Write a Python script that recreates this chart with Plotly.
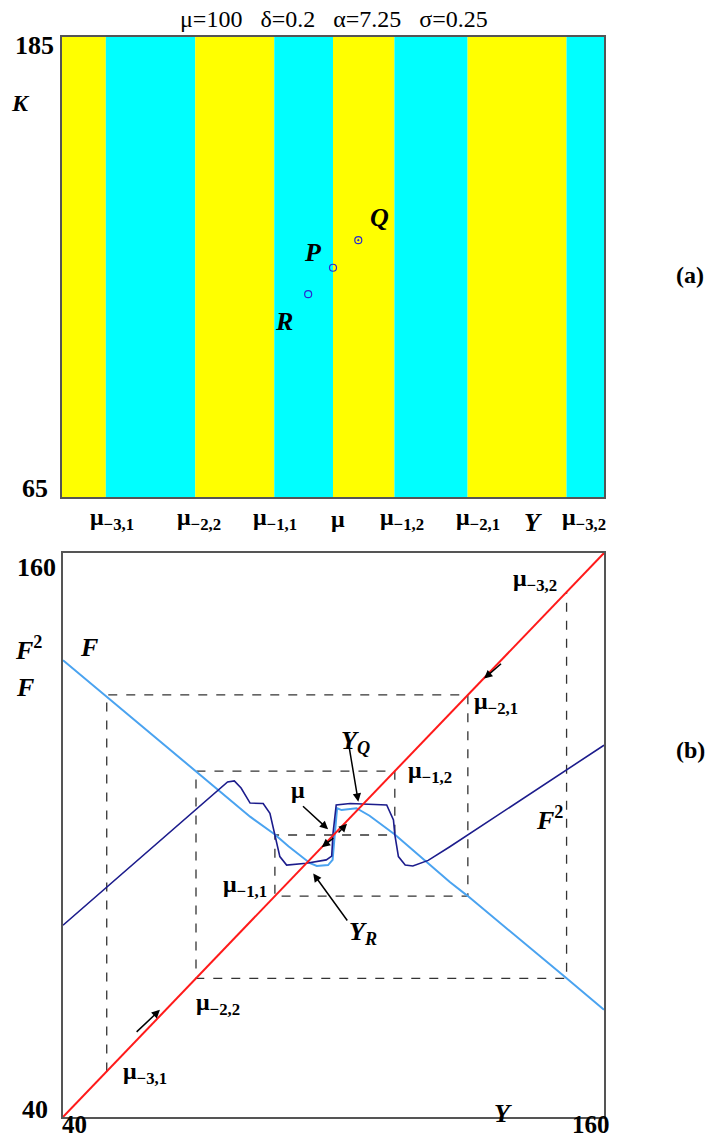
import plotly.graph_objects as go

W, H = 712, 1141
SERIF = "Liberation Serif"

# ---- characteristic points on the Y axis ----
mu = 100.0
mu_31, mu_22, mu_11 = 49.7, 69.5, 87.0
mu_12, mu_21, mu_32 = 113.6, 129.8, 151.7

# panel (a): basin stripes between consecutive points (yellow / cyan)
stripe_edges = [40.0, mu_31, mu_22, mu_11, mu, mu_12, mu_21, mu_32, 160.0]
stripe_colors = ["#ffff00", "#00ffff", "#ffff00", "#00ffff",
                 "#ffff00", "#00ffff", "#ffff00", "#00ffff"]
stripe_tick_text = ["μ<sub>−3,1</sub>", "μ<sub>−2,2</sub>", "μ<sub>−1,1</sub>", "μ",
                    "μ<sub>−1,2</sub>", "μ<sub>−2,1</sub>", "μ<sub>−3,2</sub>"]

# panel (a): equilibrium points (Y, K)
pts_name = ["P", "Q", "R"]
pts_Y = [100.0, 105.6, 94.5]
pts_K = [124.8, 132.0, 117.9]

# panel (b): map F and second iterate F^2
F_Y = [40, 50, 60, 70, 81.5, 87.0, 90.0, 94.8, 96.3, 98.8, 99.8, 100.3, 100.8,
       101.8, 105.1, 108.0, 113.6, 125.8, 129.8, 151.7, 160]
F_V = [137.2, 129.2, 121.1, 113.1, 103.9, 100.1, 97.6, 94.0, 93.4, 93.6, 94.7,
       100.3, 105.7, 105.3, 105.7, 104.1, 100.1, 90.0, 87.0, 69.5, 62.8]

F2_Y = [40, 50, 60, 70, 75.0, 76.5, 78.0, 79.5, 81.5, 84.4, 85.9, 87.0, 88.1, 89.6,
        94.0, 98.4, 99.6, 99.9, 100.6, 103.7, 111.8, 113.3, 113.6, 114.4, 115.9,
        117.6, 121.0, 125.8, 140, 160]
F2_V = [80.8, 89.2, 97.5, 105.9, 110.0, 111.3, 111.5, 110.0, 106.8, 106.7, 104.6,
        100.1, 95.4, 93.6, 94.0, 94.7, 95.5, 100.4, 106.4, 106.7, 106.4, 103.2,
        100.1, 95.4, 93.6, 93.4, 94.6, 97.5, 106.4, 119.1]

# cobweb through the preimages of mu
web_Y = [mu_31, mu_31, mu_21, mu_21, mu_11, mu_11, mu_12, mu_12, mu_22, mu_22, mu_32, mu_32]
web_V = [mu_31, mu_21, mu_21, mu_11, mu_11, mu, mu, mu_12, mu_12, mu_22, mu_22, mu_32]

fig = go.Figure()

# ---- panel (a) ----
mids = [(a + b) / 2 for a, b in zip(stripe_edges[:-1], stripe_edges[1:])]
widths = [b - a for a, b in zip(stripe_edges[:-1], stripe_edges[1:])]
fig.add_trace(go.Bar(x=mids, y=[120] * len(mids), base=65, width=widths,
                     marker=dict(color=stripe_colors, line=dict(width=0)),
                     xaxis="x", yaxis="y", showlegend=False, hoverinfo="skip"))
fig.add_trace(go.Scatter(x=pts_Y, y=pts_K, mode="markers",
                         marker=dict(symbol=["circle-open", "circle-open-dot", "circle-open"],
                                     size=7, color="#2a2ad0", line=dict(width=1.2)),
                         xaxis="x", yaxis="y", showlegend=False))

# ---- panel (b) ----
fig.add_trace(go.Scatter(x=web_Y, y=web_V, mode="lines",
                         line=dict(color="#333333", width=1.3, dash="dash"),
                         xaxis="x2", yaxis="y2", showlegend=False))
fig.add_trace(go.Scatter(x=F_Y, y=F_V, mode="lines",
                         line=dict(color="#4aa3f0", width=2),
                         xaxis="x2", yaxis="y2", showlegend=False))
fig.add_trace(go.Scatter(x=F2_Y, y=F2_V, mode="lines",
                         line=dict(color="#1c1c8c", width=1.6),
                         xaxis="x2", yaxis="y2", showlegend=False))
fig.add_trace(go.Scatter(x=[40, 160], y=[40, 160], mode="lines",
                         line=dict(color="#ff1a1a", width=2),
                         xaxis="x2", yaxis="y2", showlegend=False))

ax_common = dict(showgrid=False, zeroline=False, showticklabels=False, ticks="",
                 showline=True, mirror=True, linecolor="#555555")
fig.update_layout(
    width=W, height=H, margin=dict(l=0, r=0, t=0, b=0),
    paper_bgcolor="white", plot_bgcolor="white",
    xaxis=dict(domain=[62 / W, 604 / W], range=[40, 160], anchor="y", linewidth=2, **ax_common),
    yaxis=dict(domain=[1 - 497 / H, 1 - 37 / H], range=[65, 185], anchor="x", linewidth=2, **ax_common),
    xaxis2=dict(domain=[63 / W, 604 / W], range=[40, 160], anchor="y2", linewidth=1.5, **ax_common),
    yaxis2=dict(domain=[1 - 1117 / H, 1 - 553 / H], range=[40, 160], anchor="x2", linewidth=1.5, **ax_common),
    font=dict(family=SERIF, color="black"),
)

ann = []


def txt(text, x, y, size=24, xref="paper", yref="paper", bold=True):
    t = "<b>" + text + "</b>" if bold else text
    ann.append(dict(text=t, x=x, y=y, xref=xref, yref=yref, showarrow=False,
                    xanchor="center", yanchor="middle",
                    font=dict(family=SERIF, size=size, color="black")))


def px(xp):
    return xp / W


def py(yp):
    return 1 - yp / H


# title
txt("μ=100   δ=0.2   α=7.25   σ=0.25", px(334), py(19), size=24, bold=False)

# panel (a) labels
txt("185", px(34), py(46), size=26)
txt("65", px(35), py(488), size=26)
txt("<i>K</i>", px(20), py(103), size=24)
txt("<i>Y</i>", px(533), py(523), size=26)
tick_px = [112, 199, 275, 338, 402, 478, 584]
for t, xp in zip(stripe_tick_text, tick_px):
    txt(t, px(xp), py(519), size=24)
txt("<i>Q</i>", 110.4, 138.0, xref="x", yref="y", size=26)
txt("<i>P</i>", 95.6, 128.7, xref="x", yref="y", size=26)
txt("<i>R</i>", 89.2, 110.7, xref="x", yref="y", size=26)
txt("(a)", px(690), py(275), size=24)

# panel (b) labels
txt("160", px(36), py(568), size=26)
txt("40", px(35), py(1109), size=26)
txt("40", px(74), py(1124), size=25)
txt("160", px(591), py(1124), size=25)
txt("<i>Y</i>", px(503), py(1113), size=26)
txt("<i>F</i><sup>2</sup>", px(28), py(648), size=26)
txt("<i>F</i>", px(25), py(688), size=26)
txt("<i>F</i>", px(89), py(647), size=26)
txt("<i>F</i><sup>2</sup>", 148.0, 103.5, xref="x2", yref="y2", size=26)
txt("(b)", px(690), py(750), size=24)

lab_b = [("μ<sub>−3,2</sub>", 144.7, 154.3), ("μ<sub>−2,1</sub>", 136.0, 128.1),
         ("μ<sub>−1,2</sub>", 121.4, 113.4), ("μ", 92.2, 109.6),
         ("<i>Y<sub>Q</sub></i>", 104.8, 119.8), ("<i>Y<sub>R</sub></i>", 106.6, 79.1),
         ("μ<sub>−1,1</sub>", 80.4, 89.1), ("μ<sub>−2,2</sub>", 74.4, 64.0),
         ("μ<sub>−3,1</sub>", 58.2, 49.4)]
for t, xx, yy in lab_b:
    size = 26 if t.startswith("<i>Y") else 24
    txt(t, xx, yy, xref="x2", yref="y2", size=size)

# arrows in panel (b): (tail Y, tail V, head Y, head V)
arrows = [(56.0, 57.8, 61.5, 62.8), (137.5, 136.7, 133.4, 133.3),
          (92.9, 106.4, 98.8, 101.2), (100.3, 99.6, 97.4, 97.4),
          (100.8, 100.2, 103.0, 102.4), (103.4, 119.1, 105.5, 107.1),
          (103.3, 81.5, 95.5, 91.8)]
for tx, ty, hx, hy in arrows:
    ann.append(dict(x=hx, y=hy, ax=tx, ay=ty, xref="x2", yref="y2", axref="x2", ayref="y2",
                    text="", showarrow=True, arrowhead=2, arrowsize=1.1, arrowwidth=1.5,
                    arrowcolor="black"))

fig.update_layout(annotations=ann)
fig.write_html("out.html")
